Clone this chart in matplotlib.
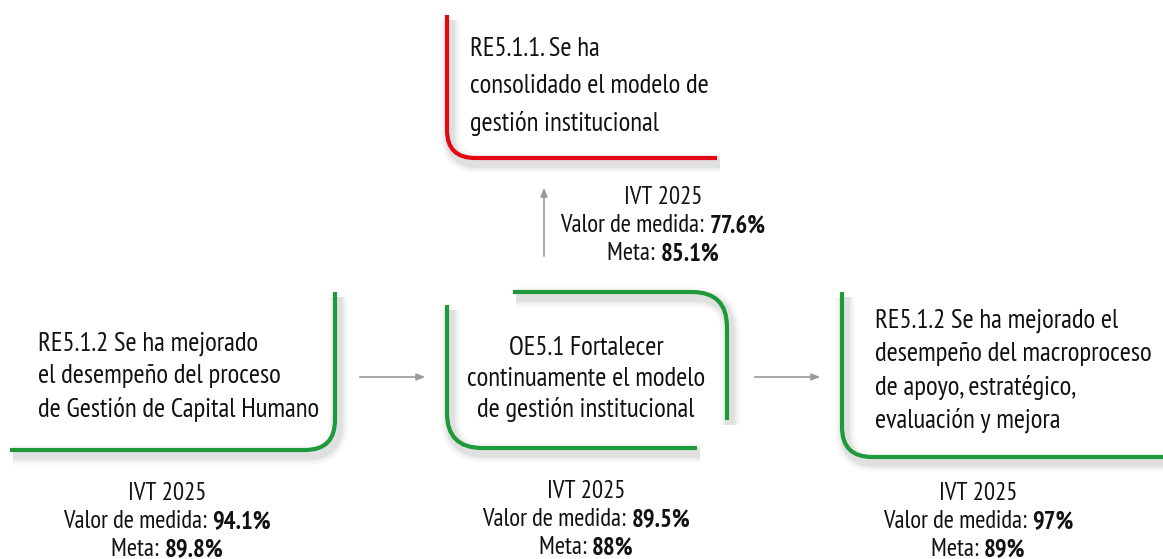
import numpy as np
import matplotlib.pyplot as plt
from matplotlib.path import Path
from matplotlib.patches import PathPatch

# ---- content ----
top_title = ["RE5.1.1. Se ha", "consolidado el modelo de", "gestión institucional"]
left_title = ["RE5.1.2 Se ha mejorado", "el desempeño del proceso", "de Gestión de Capital Humano"]
center_title = ["OE5.1 Fortalecer", "continuamente el modelo", "de gestión institucional"]
right_title = ["RE5.1.2 Se ha mejorado el", "desempeño del macroproceso", "de apoyo, estratégico,", "evaluación y mejora"]

ivt_label = "IVT 2025"
valor = ["77.6%", "94.1%", "89.5%", "97%"]     # top, left, center, right
meta = ["85.1%", "89.8%", "88%", "89%"]

FONT = ['PT Sans Narrow', 'DejaVu Sans']
RED = '#e30613'
GREEN = '#1f9a3a'
W, H = 1163, 559

fig = plt.figure(figsize=(W / 100, H / 100), dpi=100)
ax = fig.add_axes([0, 0, 1, 1])
ax.set_xlim(0, W)
ax.set_ylim(H, 0)
ax.axis('off')


def bracket(pts, r, color):
    pts = [np.array(p, float) for p in pts]
    verts = [pts[0]]
    codes = [Path.MOVETO]
    for i in range(1, len(pts) - 1):
        a, c, b = pts[i - 1], pts[i], pts[i + 1]
        da = (c - a) / np.linalg.norm(c - a)
        db = (b - c) / np.linalg.norm(b - c)
        verts += [c - r * da, c, c + r * db]
        codes += [Path.LINETO, Path.CURVE3, Path.CURVE3]
    verts.append(pts[-1])
    codes.append(Path.LINETO)
    # soft shadow
    for lw, al in [(14, 0.03), (10, 0.04), (7, 0.05)]:
        sv = [v + np.array([3, 5]) for v in verts]
        ax.add_patch(PathPatch(Path(sv, codes), fill=False, lw=lw, alpha=al,
                               edgecolor='black', capstyle='butt', joinstyle='round'))
    ax.add_patch(PathPatch(Path(verts, codes), fill=False, lw=3.0,
                           edgecolor=color, capstyle='butt', joinstyle='round'))


bracket([(447, 15), (447, 158), (717, 158)], 28, RED)
bracket([(10, 450), (335, 450), (335, 292)], 30, GREEN)
bracket([(513, 292), (727, 292), (727, 420)], 35, GREEN)
bracket([(447, 305), (447, 448), (697, 448)], 35, GREEN)
bracket([(842, 292), (842, 457), (1163, 457)], 30, GREEN)

arrow_kw = dict(arrowstyle='-|>,head_length=0.5,head_width=0.2', color='#9a9a9a', lw=1.2)
ax.annotate('', xy=(428, 377), xytext=(357, 377), arrowprops=arrow_kw)
ax.annotate('', xy=(823, 377), xytext=(752, 377), arrowprops=arrow_kw)
ax.annotate('', xy=(544, 185), xytext=(544, 259), arrowprops=arrow_kw)


def block(lines, x, y0, dy, ha, size=19.4):
    for i, s in enumerate(lines):
        ax.text(x, y0 + i * dy, s, ha=ha, va='center', fontsize=size,
                family=FONT, color='#111111')


block(top_title, 470, 49, 37, 'left')
block(left_title, 38, 344, 32.5, 'left')
block(center_title, 586, 348, 31, 'center')
block(right_title, 875, 321, 33, 'left')

renderer = fig.canvas.get_renderer()


def mixed(x, y, plain, bold, size=17.8):
    t1 = ax.text(0, y, plain, ha='left', va='center', fontsize=size,
                 family=FONT, color='#111111')
    t2 = ax.text(0, y, bold, ha='left', va='center', fontsize=size,
                 family=FONT, weight='bold', color='#111111')
    w1 = t1.get_window_extent(renderer).width
    w2 = t2.get_window_extent(renderer).width
    start = x - (w1 + w2) / 2
    t1.set_x(start)
    t2.set_x(start + w1)


def indicator(x, y0, v, m, dy=28):
    ax.text(x, y0, ivt_label, ha='center', va='center', fontsize=17.8,
            family=FONT, color='#111111')
    mixed(x, y0 + dy, "Valor de medida: ", v)
    mixed(x, y0 + 2 * dy, "Meta: ", m)


indicator(663, 198, valor[0], meta[0])
indicator(167, 494, valor[1], meta[1])
indicator(586, 492, valor[2], meta[2])
indicator(978, 494, valor[3], meta[3])

fig.savefig('out.png', dpi=100)
